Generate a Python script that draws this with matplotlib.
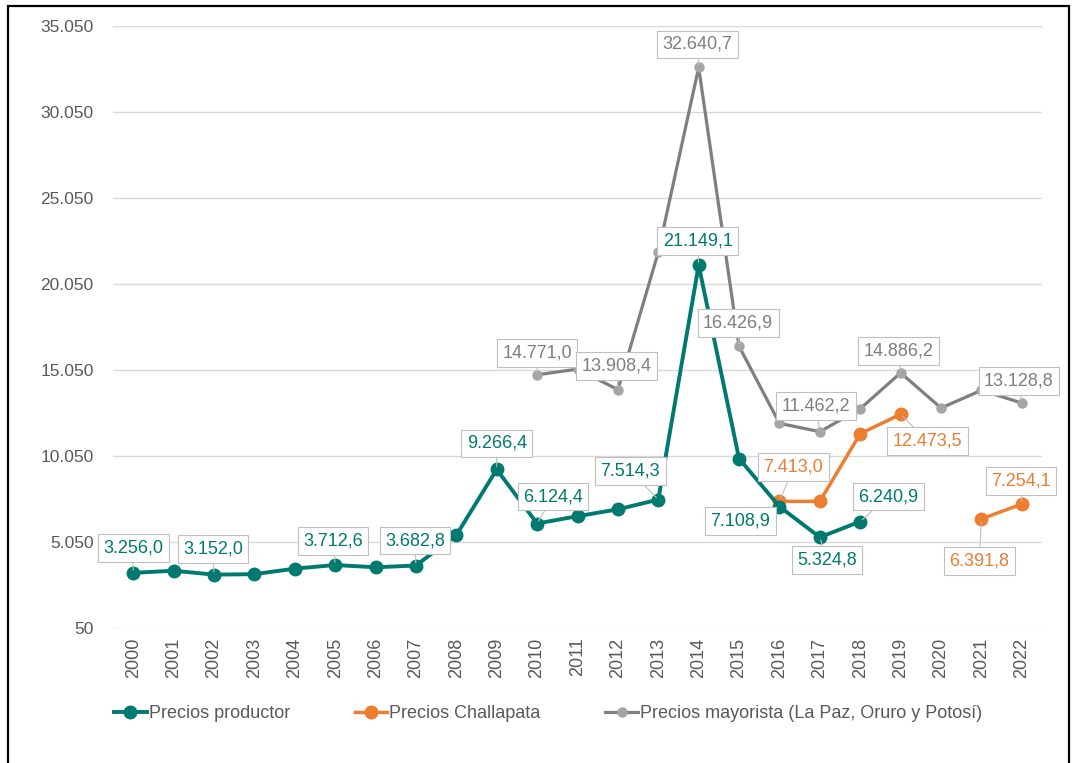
import numpy as np
import matplotlib
matplotlib.use("Agg")
import matplotlib.pyplot as plt
from matplotlib.patches import Rectangle
from matplotlib.lines import Line2D

# ---------------- data ----------------
years = [str(y) for y in range(2000, 2023)]
nan = np.nan
productor = [3256.0, 3380, 3152.0, 3180, 3500, 3712.6, 3580, 3682.8, 5450, 9266.4,
             6124.4, 6550, 6950, 7514.3, 21149.1, 9900, 7108.9, 5324.8, 6240.9,
             nan, nan, nan, nan]
challapata = [nan] * 16 + [7413.0, 7413.0, 11350, 12473.5, nan, 6391.8, 7254.1]
mayorista = [nan] * 10 + [14771.0, 15100, 13908.4, 21900, 32640.7, 16426.9, 11950,
                          11462.2, 12800, 14886.2, 12840, 13870, 13128.8]
y_ticks = [50, 5050, 10050, 15050, 20050, 25050, 30050, 35050]
series_names = ["Precios productor", "Precios Challapata",
                "Precios mayorista (La Paz, Oruro y Potosí)"]

# label placement (year index -> offset of label centre in pixels, dy positive = down)
lab_prod = {0: (0, -25), 2: (-1, -26), 5: (-2, -24), 7: (-1, -25), 9: (0, -26),
            10: (16, -27), 13: (-28, -29), 14: (-1, -24), 16: (-39, 14),
            17: (7, 23), 18: (28, -25)}
lab_chal = {16: (14, -34), 19: (27, 27), 21: (-2, 42), 22: (-1, -23)}
lab_may = {10: (0, -22), 12: (-1, -24), 14: (-1, -23), 15: (-1, -23),
           17: (-4, -26), 19: (-2, -22), 22: (-3, -22)}

# ---------------- style ----------------
TEAL = "#007A70"
ORANGE = "#ED7D31"
GRAY_LINE = "#7F7F7F"
GRAY_MK = "#A5A5A5"
TXT = "#595959"
FAM = ["Liberation Sans", "DejaVu Sans"]

W, H = 1072, 763
fig = plt.figure(figsize=(W / 100, H / 100), dpi=100)
ax = fig.add_axes([113 / W, 1 - 628 / H, (1042 - 113) / W, (628 - 26) / H])

x = np.arange(len(years))
ax.plot(x, mayorista, color=GRAY_LINE, lw=2.3, marker="o", ms=6.5,
        mfc=GRAY_MK, mec=GRAY_MK, zorder=3)
ax.plot(x, challapata, color=ORANGE, lw=2.5, marker="o", ms=9,
        mfc=ORANGE, mec=ORANGE, zorder=4)
ax.plot(x, productor, color=TEAL, lw=2.8, marker="o", ms=9,
        mfc=TEAL, mec=TEAL, zorder=5)

ax.set_xlim(-0.5, len(years) - 0.5)
ax.set_ylim(y_ticks[0], y_ticks[-1])
ax.set_yticks(y_ticks)
ax.set_yticklabels([f"{v:,}".replace(",", ".") for v in y_ticks],
                   fontsize=12.5, color=TXT, family=FAM)
ax.set_xticks(x)
ax.set_xticklabels(years, rotation=90, fontsize=13, color=TXT, family=FAM)
ax.tick_params(length=0)
ax.tick_params(axis="x", pad=7)
ax.tick_params(axis="y", pad=14)
ax.grid(axis="y", color="#D9D9D9", lw=1)
ax.set_axisbelow(True)
for s in ax.spines.values():
    s.set_visible(False)


def fmt(v):
    return f"{v:,.1f}".replace(",", "X").replace(".", ",").replace("X", ".")


def add_labels(vals, spec, color):
    for i, (dx, dy) in spec.items():
        v = vals[i]
        ax.annotate(fmt(v), xy=(i, v), xytext=(dx * 0.72, -dy * 0.72),
                    textcoords="offset points", ha="center", va="center",
                    fontsize=13, color=color, family=FAM, zorder=10,
                    bbox=dict(boxstyle="square,pad=0.3", fc="white",
                              ec="#BFBFBF", lw=0.8),
                    arrowprops=dict(arrowstyle="-", color="#BFBFBF", lw=0.8,
                                    shrinkA=0, shrinkB=2))


add_labels(mayorista, lab_may, "#7F7F7F")
add_labels(challapata, lab_chal, ORANGE)
add_labels(productor, lab_prod, TEAL)

handles = [
    Line2D([], [], color=TEAL, lw=2.8, marker="o", ms=9, mfc=TEAL, mec=TEAL),
    Line2D([], [], color=ORANGE, lw=2.5, marker="o", ms=9, mfc=ORANGE, mec=ORANGE),
    Line2D([], [], color=GRAY_LINE, lw=2.3, marker="o", ms=6.5, mfc=GRAY_MK, mec=GRAY_MK),
]
leg = fig.legend(handles, series_names, loc="center", ncol=3,
                 bbox_to_anchor=(548 / W, 1 - 714 / H), frameon=False,
                 prop={"family": FAM, "size": 13}, labelcolor=TXT,
                 handlelength=1.8, handletextpad=0.1, columnspacing=3.6)

fig.add_artist(Rectangle((8 / W, -0.02), (1069 - 8) / W, 1 - 6 / H + 0.02,
                         transform=fig.transFigure, fill=False, ec="black", lw=1.6))

fig.savefig("out.png", dpi=100)
